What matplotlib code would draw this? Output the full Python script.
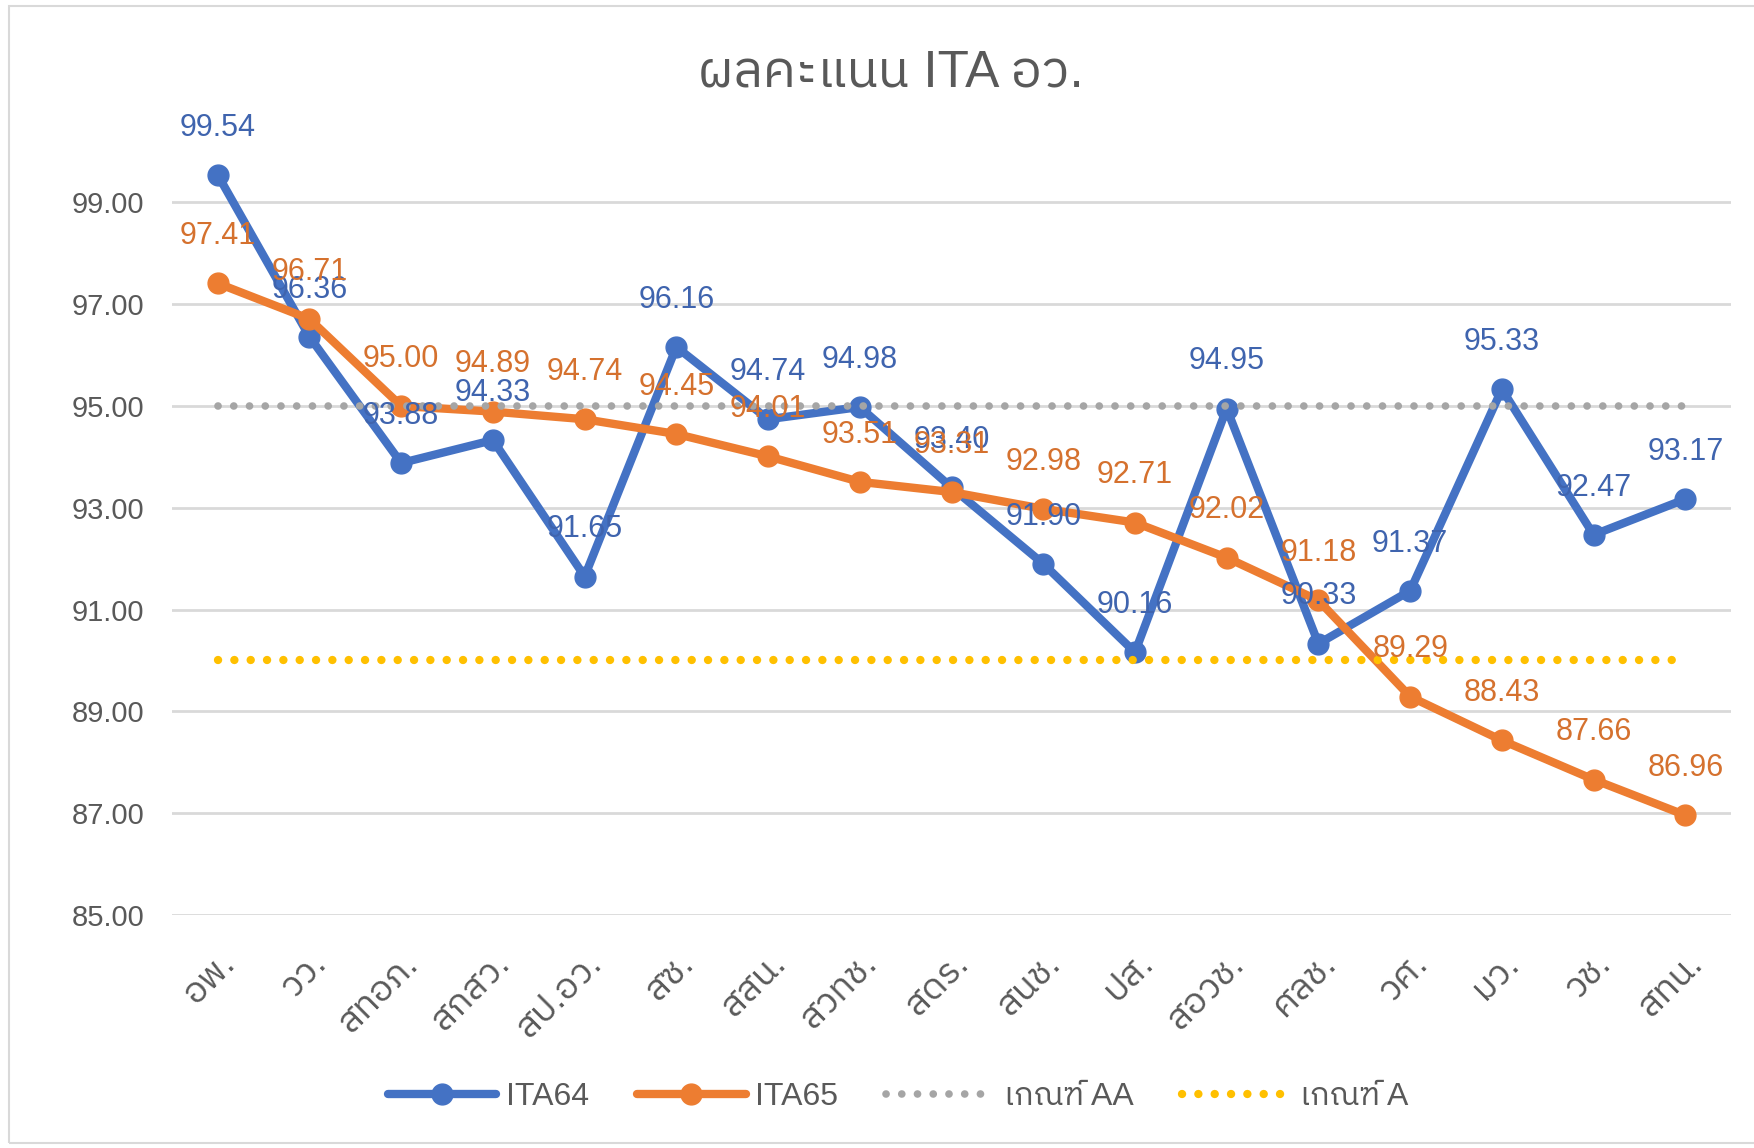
import matplotlib
matplotlib.use('Agg')
import matplotlib.pyplot as plt
import numpy as np
from matplotlib import font_manager
from matplotlib.ft2font import FT2Font
from matplotlib.patches import Rectangle

categories = ['อพ.', 'วว.', 'สทอภ.', 'สกสว.', 'สป.อว.', 'สซ.', 'สสน.', 'สวทช.', 'สดร.',
              'สนช.', 'ปส.', 'สอวช.', 'ศลช.', 'วศ.', 'มว.', 'วช.', 'สทน.']
ita64 = [99.54, 96.36, 93.88, 94.33, 91.65, 96.16, 94.74, 94.98, 93.40,
         91.90, 90.16, 94.95, 90.33, 91.37, 95.33, 92.47, 93.17]
ita65 = [97.41, 96.71, 95.00, 94.89, 94.74, 94.45, 94.01, 93.51, 93.31,
         92.98, 92.71, 92.02, 91.18, 89.29, 88.43, 87.66, 86.96]
level_aa = 95.0
level_a = 90.0
y_ticks = [85, 87, 89, 91, 93, 95, 97, 99]


def find_thai_font():
    """Look through the installed fonts for one that has Thai glyphs."""
    found = []
    for fe in font_manager.fontManager.ttflist:
        try:
            cmap = FT2Font(fe.fname).get_charmap()
        except Exception:
            continue
        if 0x0E01 in cmap and 0x0E13 in cmap and 0x0E17 in cmap:
            found.append(fe.name)
    if not found:
        return None
    # prefer plain sans families
    found.sort(key=lambda n: (('Looped' in n), ('Sans' not in n), ('Thai' not in n), n))
    return found[0]


thai = find_thai_font()
families = ['Liberation Sans']
if thai:
    families.append(thai)
families.append('DejaVu Sans')
plt.rcParams['font.family'] = families

blue = '#4472C4'
orange = '#ED7D31'
gray = '#A5A5A5'
yellow = '#FFC000'
text_gray = '#595959'
fs = 21

fig = plt.figure(figsize=(17.54, 11.48), dpi=100)
ax = fig.add_axes([0.098, 0.203, 0.889, 0.665])

x = np.arange(len(categories))

ax.plot(x, ita64, color=blue, lw=6, marker='o', ms=15, label='ITA64',
        solid_capstyle='round', solid_joinstyle='round', zorder=3)
ax.plot(x, ita65, color=orange, lw=6, marker='o', ms=15, label='ITA65',
        solid_capstyle='round', solid_joinstyle='round', zorder=4)
ax.plot(x, [level_aa] * len(x), color=gray, lw=5.5, linestyle=(0, (0.01, 2.05)),
        dash_capstyle='round', label='เกณฑ์ AA', zorder=5)
ax.plot(x, [level_a] * len(x), color=yellow, lw=6, linestyle=(0, (0.01, 1.95)),
        dash_capstyle='round', label='เกณฑ์ A', zorder=5)

for xi, v in zip(x, ita64):
    ax.annotate(f'{v:.2f}', (xi, v), xytext=(0, 34), textcoords='offset points',
                ha='center', va='center', fontsize=22, color='#3F64AE',
                annotation_clip=False, zorder=6)
for xi, v in zip(x, ita65):
    ax.annotate(f'{v:.2f}', (xi, v), xytext=(0, 34), textcoords='offset points',
                ha='center', va='center', fontsize=22, color='#D5712E',
                annotation_clip=False, zorder=6)

ax.set_xlim(-0.5, len(categories) - 0.5)
ax.set_ylim(85, 100)
ax.set_yticks(y_ticks)
ax.set_yticklabels([f'{t:.2f}' for t in y_ticks], fontsize=fs, color=text_gray)
ax.set_xticks(x)
ax.set_xticklabels(categories, rotation=45, ha='right', va='top',
                   rotation_mode='anchor', fontsize=26, color=text_gray)
ax.tick_params(axis='both', length=0)
ax.tick_params(axis='x', pad=22)
ax.tick_params(axis='y', pad=20)
ax.grid(axis='y', color='#D9D9D9', lw=2)
ax.set_axisbelow(True)
for s in ax.spines.values():
    s.set_visible(False)

fig.text(0.508, 0.936, 'ผลคะแนน ITA อว.', ha='center', va='center',
         fontsize=37, color=text_gray)

leg = fig.legend(loc='center', bbox_to_anchor=(0.512, 0.044), ncol=4, frameon=False,
                 fontsize=23, handlelength=3.4, columnspacing=1.5, handletextpad=0.3)
for t in leg.get_texts():
    t.set_color(text_gray)

fig.patches.append(Rectangle((0.005, 0.004), 1.2, 0.991, transform=fig.transFigure,
                             fill=False, edgecolor='#D9D9D9', lw=1.5))

fig.savefig('out.png', dpi=100)
